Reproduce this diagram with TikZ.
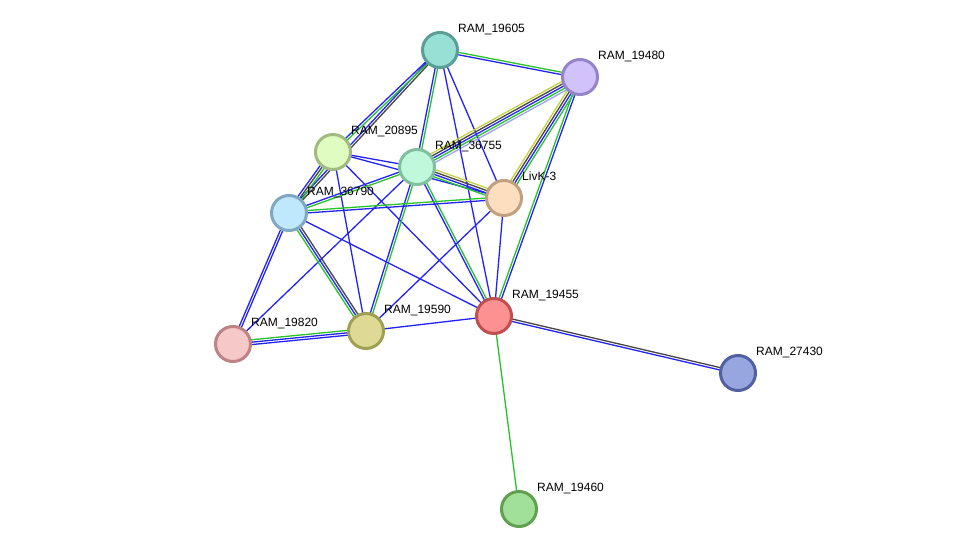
\documentclass[tikz,border=0pt]{standalone}
\usepackage{fontspec}
\setmainfont{Liberation Sans}
\usetikzlibrary{calc}
\definecolor{cooccol}{RGB}{35,35,245}
\definecolor{neighcol}{RGB}{40,195,40}
\definecolor{coexpcol}{RGB}{70,70,70}
\definecolor{txtcol}{RGB}{195,210,60}
\definecolor{homcol}{RGB}{160,160,250}
\tikzset{
  cooc/.style={draw=cooccol,line width=1.3pt},
  neigh/.style={draw=neighcol,line width=1.3pt},
  coexp/.style={draw=coexpcol,line width=1.3pt},
  txt/.style={draw=txtcol,line width=1.3pt},
  hom/.style={draw=homcol,line width=1.3pt},
  prot/.style={circle,minimum size=35pt,inner sep=0pt,line width=3pt},
  lbl/.style={anchor=base west,inner sep=0pt,font=\fontsize{12}{14}\selectfont,text=black}
}
\newcommand\sedge[4]{%
  \foreach \ecol [count=\i] in {#4}{%
    \pgfmathsetmacro\eoff{(\i-(#3+1)/2)*2.4}%
    \draw[\ecol] ($(#1)!\eoff pt!90:(#2)$) -- ($(#2)!\eoff pt!-90:(#1)$);
  }}
\begin{document}
\begin{tikzpicture}[x=1pt,y=-1pt]
\useasboundingbox[fill=white] (0,0) rectangle (975,554);
% node centres
\coordinate (c19605) at (440,50);
\coordinate (c19480) at (580,77);
\coordinate (c20895) at (333,152);
\coordinate (c36755) at (417,167);
\coordinate (cLivK) at (504,198);
\coordinate (c36790) at (289,213);
\coordinate (c19820) at (233,344);
\coordinate (c19590) at (366,331);
\coordinate (c19455) at (494,316);
\coordinate (c27430) at (738,373);
\coordinate (c19460) at (519,509);
% edges
\sedge{c19605}{c19480}{2}{cooc,neigh}
\sedge{c19605}{c36790}{2}{cooc,coexp}
\sedge{c19605}{c20895}{2}{cooc,neigh}
\sedge{c19605}{c36755}{2}{cooc,neigh}
\sedge{c19605}{cLivK}{1}{cooc}
\sedge{c19605}{c19455}{1}{cooc}
\sedge{c19480}{c36755}{5}{txt,coexp,cooc,neigh,hom}
\sedge{c19480}{cLivK}{4}{txt,coexp,cooc,neigh}
\sedge{c19480}{c19455}{2}{neigh,cooc}
\sedge{c20895}{c36755}{1}{cooc}
\sedge{c20895}{cLivK}{1}{cooc}
\sedge{c20895}{c36790}{3}{cooc,coexp,neigh}
\sedge{c20895}{c19590}{1}{cooc}
\sedge{c20895}{c19455}{1}{cooc}
\sedge{c36755}{cLivK}{4}{neigh,cooc,coexp,txt}
\sedge{c36755}{c36790}{2}{cooc,neigh}
\sedge{c36755}{c19590}{2}{cooc,neigh}
\sedge{c36755}{c19455}{2}{cooc,neigh}
\sedge{c36755}{c19820}{1}{cooc}
\sedge{c36790}{cLivK}{2}{cooc,neigh}
\sedge{c36790}{c19820}{2}{cooc,cooc}
\sedge{c36790}{c19590}{3}{neigh,cooc,coexp}
\sedge{c36790}{c19455}{1}{cooc}
\sedge{c19820}{c19590}{3}{cooc,cooc,neigh}
\sedge{c19590}{c19455}{1}{cooc}
\sedge{cLivK}{c19455}{1}{cooc}
\sedge{cLivK}{c19590}{1}{cooc}
\sedge{c19455}{c27430}{2}{cooc,coexp}
\sedge{c19455}{c19460}{1}{neigh}
% nodes
\node[prot,fill={rgb,255:red,152;green,223;blue,214},draw={rgb,255:red,90;green,158;blue,148}] (n19605) at (c19605) {};
\node[prot,fill={rgb,255:red,210;green,194;blue,252},draw={rgb,255:red,150;green,132;blue,200}] (n19480) at (c19480) {};
\node[prot,fill={rgb,255:red,224;green,252;blue,192},draw={rgb,255:red,160;green,186;blue,128}] (n20895) at (c20895) {};
\node[prot,fill={rgb,255:red,192;green,248;blue,220},draw={rgb,255:red,128;green,192;blue,160}] (n36755) at (c36755) {};
\node[prot,fill={rgb,255:red,253;green,223;blue,192},draw={rgb,255:red,192;green,160;blue,128}] (nLivK) at (cLivK) {};
\node[prot,fill={rgb,255:red,192;green,232;blue,252},draw={rgb,255:red,128;green,168;blue,192}] (n36790) at (c36790) {};
\node[prot,fill={rgb,255:red,247;green,200;blue,200},draw={rgb,255:red,190;green,130;blue,130}] (n19820) at (c19820) {};
\node[prot,fill={rgb,255:red,222;green,218;blue,150},draw={rgb,255:red,160;green,160;blue,85}] (n19590) at (c19590) {};
\node[prot,fill={rgb,255:red,253;green,144;blue,144},draw={rgb,255:red,192;green,80;blue,80}] (n19455) at (c19455) {};
\node[prot,fill={rgb,255:red,152;green,166;blue,224},draw={rgb,255:red,80;green,96;blue,160}] (n27430) at (c27430) {};
\node[prot,fill={rgb,255:red,160;green,224;blue,152},draw={rgb,255:red,96;green,160;blue,80}] (n19460) at (c19460) {};
% labels
\node[lbl] (l19605) at ($(c19605)+(18,-17.5)$) {RAM\_19605};
\node[lbl] (l19480) at ($(c19480)+(18,-17.5)$) {RAM\_19480};
\node[lbl] (l20895) at ($(c20895)+(18,-17.5)$) {RAM\_20895};
\node[lbl] (l36755) at ($(c36755)+(18,-17.5)$) {RAM\_36755};
\node[lbl] (lLivK) at ($(cLivK)+(18,-17.5)$) {LivK-3};
\node[lbl] (l36790) at ($(c36790)+(18,-17.5)$) {RAM\_36790};
\node[lbl] (l19820) at ($(c19820)+(18,-17.5)$) {RAM\_19820};
\node[lbl] (l19590) at ($(c19590)+(18,-17.5)$) {RAM\_19590};
\node[lbl] (l19455) at ($(c19455)+(18,-17.5)$) {RAM\_19455};
\node[lbl] (l27430) at ($(c27430)+(18,-17.5)$) {RAM\_27430};
\node[lbl] (l19460) at ($(c19460)+(18,-17.5)$) {RAM\_19460};
\end{tikzpicture}
\end{document}
